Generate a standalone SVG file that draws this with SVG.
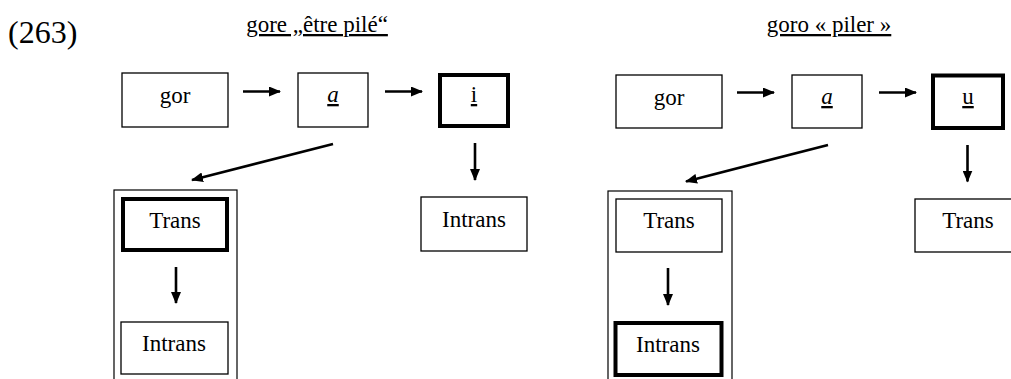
<svg xmlns="http://www.w3.org/2000/svg" width="1011" height="379" viewBox="0 0 1011 379">
<style>
.t{font-size:23px;text-anchor:middle;}
.h{font-size:23px;text-anchor:middle;text-decoration:underline;}
.b{fill:#fff;stroke:#000;stroke-width:1.3;}
.k{fill:#fff;stroke:#000;stroke-width:4;}
.c{fill:none;stroke:#000;stroke-width:1.2;}
.a{stroke:#000;stroke-width:2.6;fill:none;marker-end:url(#ah);}
</style>
<defs>
<marker id="ah" markerUnits="userSpaceOnUse" markerWidth="12" markerHeight="10" refX="11" refY="5" orient="auto" viewBox="0 0 12 10">
<path d="M0,0 L12,5 L0,10 Z" fill="#000"/>
</marker>
</defs>
<rect width="1011" height="379" fill="#fff"/>
<g font-family="'Liberation Serif', 'Times New Roman', serif" fill="#000">
<text x="8" y="43" font-size="32">(263)</text>
<text class="h" x="317" y="32">gore „être pilé“</text>
<text class="h" x="829" y="32">goro « piler »</text>

<g id="left-gor"><rect class="b" x="122" y="73" width="106" height="54"/><text class="t" x="175" y="103">gor</text></g>
<g id="left-a"><rect class="b" x="298" y="73" width="70" height="54"/><text class="t" x="333" y="102" font-style="italic" text-decoration="underline">a</text></g>
<g id="left-i"><rect class="k" x="440" y="75" width="68" height="51"/><text class="t" x="474" y="102" text-decoration="underline">i</text></g>
<g id="left-group"><rect class="c" x="114" y="190" width="123" height="200"/>
<g id="left-trans"><rect class="k" x="123" y="199" width="104" height="51"/><text class="t" x="175" y="228">Trans</text></g>
<g id="left-intrans2"><rect class="b" x="121" y="322" width="107" height="52"/><text class="t" x="174" y="351">Intrans</text></g>
</g>
<g id="left-intrans"><rect class="b" x="421" y="197" width="106" height="54"/><text class="t" x="474" y="227">Intrans</text></g>

<g id="right-gor"><rect class="b" x="616" y="75" width="106" height="53"/><text class="t" x="669" y="105">gor</text></g>
<g id="right-a"><rect class="b" x="792" y="75" width="70" height="53"/><text class="t" x="827" y="104" font-style="italic" text-decoration="underline">a</text></g>
<g id="right-u"><rect class="k" x="933" y="75.5" width="70" height="52.5"/><text class="t" x="968" y="104" text-decoration="underline">u</text></g>
<g id="right-group"><rect class="c" x="608" y="191" width="124" height="200"/>
<g id="right-trans"><rect class="b" x="616" y="199" width="106" height="53"/><text class="t" x="669" y="228">Trans</text></g>
<g id="right-intrans"><rect class="k" x="615.5" y="323" width="106" height="52"/><text class="t" x="668" y="352">Intrans</text></g>
</g>
<g id="right-trans2"><rect class="b" x="915" y="199" width="110" height="53"/><text class="t" x="968" y="228">Trans</text></g>
</g>

<g id="connectors">
<line class="a" x1="243" y1="91.5" x2="280" y2="91.5"/>
<line class="a" x1="385" y1="91.5" x2="422" y2="91.5"/>
<line class="a" x1="333" y1="144" x2="192" y2="180"/>
<line class="a" x1="475" y1="143" x2="475" y2="180"/>
<line class="a" x1="176" y1="267" x2="176" y2="303"/>
<line class="a" x1="737" y1="92.5" x2="774" y2="92.5"/>
<line class="a" x1="879" y1="92.5" x2="916" y2="92.5"/>
<line class="a" x1="828" y1="145" x2="686" y2="181.5"/>
<line class="a" x1="967.5" y1="145" x2="967.5" y2="181.5"/>
<line class="a" x1="668" y1="268" x2="668" y2="305"/>
</g>
</svg>
